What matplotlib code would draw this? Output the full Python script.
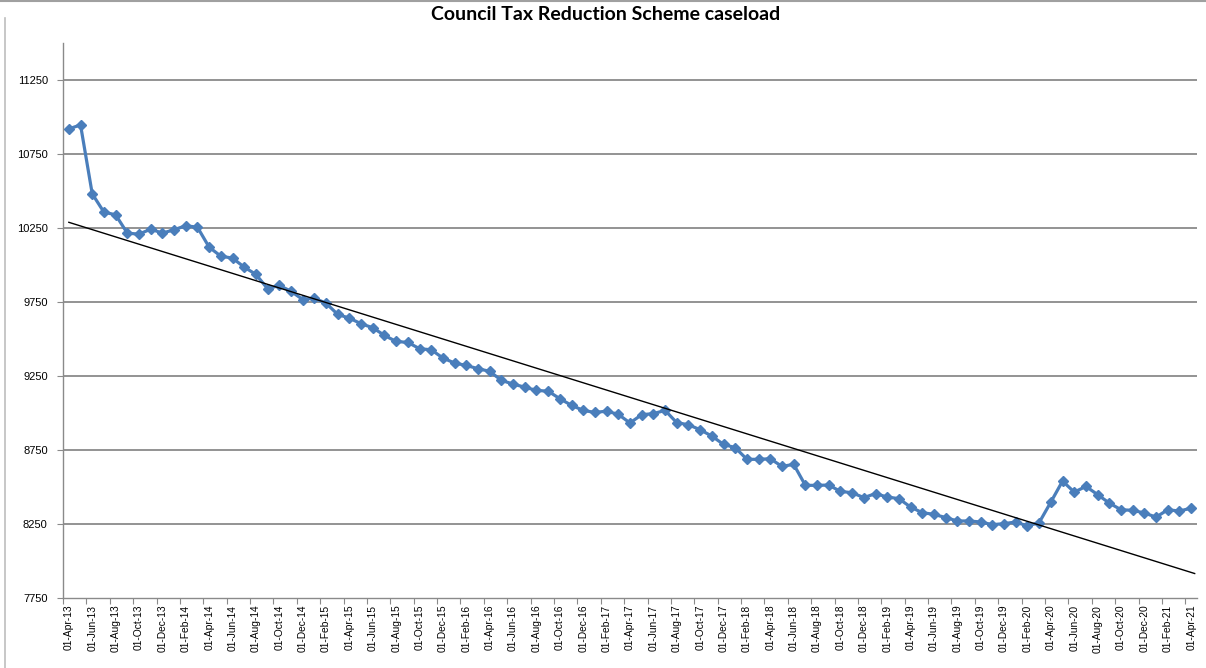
import numpy as np
import pandas as pd
import matplotlib
matplotlib.use("Agg")
import matplotlib.pyplot as plt
from matplotlib.lines import Line2D

# ---- data ----
months = pd.date_range("2013-04-01", periods=97, freq="MS")
month_labels = [d.strftime("%d-%b-%y") for d in months]
caseload = [
    10921, 10948, 10482, 10358, 10340, 10216, 10209, 10243, 10216, 10239,
    10266, 10256, 10121, 10060, 10047, 9986, 9937, 9840, 9862, 9823,
    9767, 9776, 9742, 9666, 9641, 9603, 9576, 9524, 9483, 9477,
    9434, 9427, 9371, 9337, 9321, 9299, 9281, 9220, 9195, 9174,
    9152, 9147, 9096, 9051, 9017, 9003, 9012, 8990, 8932, 8988,
    8995, 9017, 8934, 8920, 8886, 8843, 8787, 8765, 8686, 8686,
    8690, 8638, 8652, 8510, 8510, 8512, 8469, 8460, 8427, 8454,
    8431, 8420, 8363, 8325, 8314, 8292, 8269, 8269, 8262, 8244,
    8251, 8262, 8235, 8258, 8397, 8539, 8464, 8503, 8447, 8390,
    8345, 8341, 8323, 8295, 8345, 8336, 8356,
]
y_ticks = [7750, 8250, 8750, 9250, 9750, 10250, 10750, 11250]
title = "Council Tax Reduction Scheme caseload"

# ---- figure ----
fig = plt.figure(figsize=(12.06, 6.68), dpi=100)
ax = fig.add_axes([63 / 1206, 1 - 597.7 / 668, (1197 - 63) / 1206, (597.7 - 43.3) / 668])

x = np.arange(len(caseload))
vals = np.array(caseload, dtype=float)

grid_col = "#8a8a8a"
for yt in y_ticks[1:]:
    ax.axhline(yt, color=grid_col, lw=1.3, zorder=1)

ax.plot(x, vals, color="#4a7ebb", lw=2.3, marker="D", ms=5.2,
        markerfacecolor="#4a7ebb", markeredgecolor="#4a7ebb", zorder=3)

# linear trendline
slope, intercept = np.polyfit(x, vals, 1)
tx = np.array([x[0], x[-1] + 0.3])
ax.plot(tx, slope * tx + intercept, color="black", lw=1.0, zorder=4)

ax.set_xlim(-0.5, len(caseload) - 0.5)
ax.set_ylim(7750, 11500)

ax.set_yticks(y_ticks)
ax.set_yticklabels([str(v) for v in y_ticks], fontsize=8,
                   family=["Liberation Sans", "DejaVu Sans"])
ax.tick_params(axis="y", length=4, width=0.8, color=grid_col, pad=7)

major = np.arange(-0.5, len(caseload), 2)
ax.set_xticks(major)
ax.set_xticklabels([""] * len(major))
ax.tick_params(axis="x", which="major", length=4, width=0.8, color=grid_col)
minor = x[::2]
ax.set_xticks(minor, minor=True)
ax.set_xticklabels([month_labels[i] for i in minor], minor=True, rotation=90,
                   fontsize=7.4, family=["Liberation Sans", "DejaVu Sans"])
ax.tick_params(axis="x", which="minor", length=0, pad=5)

for s in ["top", "right"]:
    ax.spines[s].set_visible(False)
for s in ["left", "bottom"]:
    ax.spines[s].set_color(grid_col)
    ax.spines[s].set_linewidth(1.0)

fig.text(606 / 1206, 1 - 15 / 668, title, ha="center", va="center",
         fontsize=14, fontweight="bold", family=["Lato", "DejaVu Sans"])

# chart frame edges
fig.add_artist(Line2D([5 / 1206, 5 / 1206], [0, 1 - 18 / 668], color="#bdbdbd", lw=1.2))
fig.add_artist(Line2D([0, 1], [1 - 1 / 668, 1 - 1 / 668], color="#a0a0a0", lw=1.5))

fig.savefig("out.png", dpi=100)
